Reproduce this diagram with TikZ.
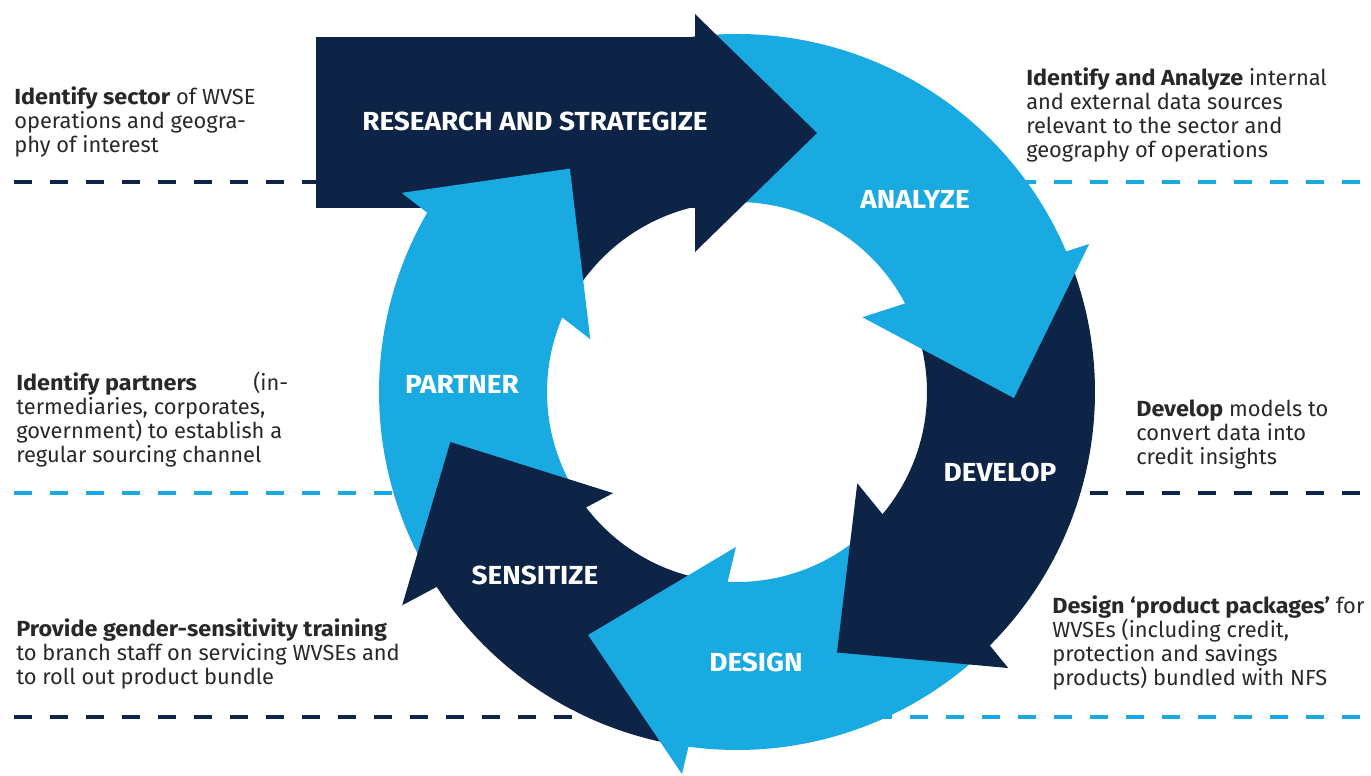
\documentclass[tikz,border=0pt]{standalone}
\usepackage{fontspec}
\setmainfont{Fira Sans}[BoldFeatures={FakeStretch=1.07}]
\definecolor{navy}{RGB}{13,36,71}
\definecolor{sky}{RGB}{25,170,226}
\definecolor{ink}{RGB}{40,40,40}
\tikzset{
  guide/.style={line width=2.4pt, dash pattern=on 13.5pt off 13.5pt},
  stage/.style={text=white, inner sep=0pt, font=\fontsize{19.6}{22}\selectfont\bfseries},
  note/.style={anchor=base west, align=left, text=ink, inner sep=0pt, font=\fontsize{16.4}{18}\selectfont},
}

\begin{document}
\begin{tikzpicture}[x=0.75pt,y=0.75pt,yscale=-1,xscale=1]
\useasboundingbox (0,0) rectangle (1371,775);
%Dashed Lines
\draw[guide,navy] (14,182) -- (737,182);
\draw[guide,sky] (1360,182) -- (737,182);
\draw[guide,sky] (14,493) -- (470,493);
\draw[guide,navy] (1360,493) -- (1000,493);
\draw[guide,navy] (14,717) -- (737,717);
\draw[guide,sky] (1360,717) -- (737,717);
%Shape: Ring Sectors [bodies]
\begin{scope}[shift={(737,392)}]
\fill[navy] (210.7:358) arc[start angle=210.7, end angle=265, radius=358] -- (265:190) arc[start angle=265, end angle=210.7, radius=190] -- cycle;
\fill[sky] (-96:358) arc[start angle=-96, end angle=-22.8, radius=358] -- (-22.8:190) arc[start angle=-22.8, end angle=-96, radius=190] -- cycle;
\fill[navy] (-22.8:358) arc[start angle=-22.8, end angle=45.5, radius=358] -- (45.5:190) arc[start angle=45.5, end angle=-22.8, radius=190] -- cycle;
\fill[sky] (45.5:358) arc[start angle=45.5, end angle=98.2, radius=358] -- (98.2:190) arc[start angle=98.2, end angle=45.5, radius=190] -- cycle;
\fill[navy] (98.2:358) arc[start angle=98.2, end angle=147.5, radius=358] -- (147.5:190) arc[start angle=147.5, end angle=98.2, radius=190] -- cycle;
\fill[sky] (147.5:358) arc[start angle=147.5, end angle=210.7, radius=358] -- (210.7:190) arc[start angle=210.7, end angle=147.5, radius=190] -- cycle;
\end{scope}
%Shape: Rectangle [research]
\fill[navy] (316,37) rectangle (698,208);
%Shape: Triangle [research head]
\fill[navy] (695,14) -- (817,133) -- (695,252) -- cycle;
%Shape: Triangles [heads]
\begin{scope}[shift={(737,392)}]
\fill[sky] (-22.8:382) -- (1.25:277) -- (-30.8:146) -- cycle;
\fill[navy] (45.5:387) -- (69:279) -- (37.2:151) -- cycle;
\fill[sky] (98.2:386) -- (121.5:285) -- (90.4:155) -- cycle;
\fill[navy] (147.5:397) -- (170.1:291) -- (140.8:160) -- cycle;
\fill[sky] (210.7:390) -- (233.2:279) -- (199.8:156) -- cycle;
\end{scope}
% Text Node
\node[stage] (research) at (535,121) {RESEARCH AND STRATEGIZE};
% Text Node
\node[stage] (analyze) at (915,199) {ANALYZE};
% Text Node
\node[stage] (develop) at (1000,472) {DEVELOP};
% Text Node
\node[stage] (design) at (756,662) {DESIGN};
% Text Node
\node[stage] (sensitize) at (535,575) {SENSITIZE};
% Text Node
\node[stage] (partner) at (462,384) {PARTNER};
% Text Node
\node[note] (sectornote) at (14,152) {\textbf{Identify sector} of WVSE\\operations and geogra-\\phy of interest};
% Text Node
\node[note] (sourcenote) at (1026,157) {\textbf{Identify and Analyze} internal\\and external data sources\\relevant to the sector and\\geography of operations};
% Text Node
\node[note] (partnernote) at (16,462) {\makebox[204pt][l]{\textbf{Identify partners}\hfill(in-}\\termediaries, corporates,\\government) to establish a\\regular sourcing channel};
% Text Node
\node[note] (modelnote) at (1136,464) {\textbf{Develop} models to\\convert data into\\credit insights};
% Text Node
\node[note] (trainingnote) at (16,684) {\textbf{Provide gender-sensitivity training}\\to branch staff on servicing WVSEs and\\to roll out product bundle};
% Text Node
\node[note] (packagenote) at (1052,685) {\textbf{Design ‘product packages’} for\\WVSEs (including credit,\\protection and savings\\products) bundled with NFS};
\end{tikzpicture}
\end{document}
